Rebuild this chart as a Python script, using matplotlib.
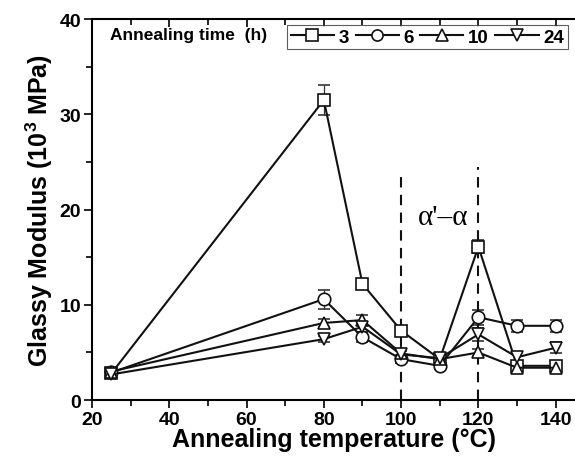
import matplotlib
matplotlib.use("Agg")
import matplotlib.pyplot as plt
from matplotlib.lines import Line2D
from matplotlib.ticker import MultipleLocator

plt.rcParams['font.family'] = ['Liberation Sans', 'DejaVu Sans']
plt.rcParams['font.weight'] = 'bold'
plt.rcParams['mathtext.fontset'] = 'custom'
plt.rcParams['mathtext.bf'] = 'Liberation Sans:bold'
plt.rcParams['mathtext.default'] = 'bf'

# annealing temperature (C) and glassy modulus (10^3 MPa) per annealing time
temps = [25, 80, 90, 100, 110, 120, 130, 140]
times = ['3', '6', '10', '24']
mod_3h = [2.8, 31.5, 12.2, 7.3, 4.3, 16.1, 3.6, 3.6]
mod_6h = [2.9, 10.6, 6.6, 4.3, 3.6, 8.7, 7.8, 7.8]
mod_10h = [3.0, 8.1, 8.4, 4.9, 4.3, 5.0, 3.4, 3.4]
mod_24h = [2.7, 6.4, 7.7, 4.8, 4.4, 6.9, 4.5, 5.5]
err_3h = [0.3, 1.6, 0.3, 0.3, 0.3, 0.7, 0.3, 0.3]
err_6h = [0.3, 1.0, 0.5, 0.4, 0.3, 0.8, 0.6, 0.6]
err_10h = [0.3, 0.4, 0.5, 0.4, 0.3, 0.4, 0.4, 0.3]
err_24h = [0.3, 0.3, 0.5, 0.4, 0.3, 0.7, 0.5, 0.6]

fig = plt.figure(figsize=(5.75, 4.6), dpi=100)
ax = fig.add_axes([0.16, 0.128, 0.84, 0.8285])

series = [(mod_3h, err_3h, 's'), (mod_6h, err_6h, 'o'),
          (mod_10h, err_10h, '^'), (mod_24h, err_24h, 'v')]
handles = []
for (vals, errs, mk), lab in zip(series, times):
    ax.errorbar(temps, vals, yerr=errs, color='#111111', lw=1.5,
                marker=mk, ms=9, mfc='white', mec='#111111', mew=1.2,
                ecolor='#333333', elinewidth=0.9, capsize=4)
    handles.append(Line2D([], [], color='#111111', lw=1.5, marker=mk, ms=8,
                          mfc='white', mec='#111111', mew=1.2, label=lab))

# transition region markers
ax.vlines([100, 120], 0, [24, 24.5], colors='#111111', linestyles=(0, (5, 3.5)), lw=1.5)
ax.text(111, 19.2, "\u03b1'\u2013\u03b1", family=['Liberation Serif'], fontweight='normal',
        fontsize=21, ha='center', va='center')

ax.set_xlim(20, 145)
ax.set_ylim(0, 40)
ax.xaxis.set_major_locator(MultipleLocator(20))
ax.xaxis.set_minor_locator(MultipleLocator(10))
ax.yaxis.set_major_locator(MultipleLocator(10))
ax.yaxis.set_minor_locator(MultipleLocator(5))
ax.set_xticks([20, 40, 60, 80, 100, 120, 140])
ax.tick_params(which='both', direction='out', width=1.2, labelsize=14, pad=2)
ax.tick_params(which='major', length=6)
ax.tick_params(which='minor', length=4)
ax.tick_params(axis='x', which='both', top=True, labeltop=False)
for t in ax.xaxis.get_major_ticks() + ax.xaxis.get_minor_ticks():
    t.tick2line.set_marker(3)  # top ticks point into the axes
for lbl in ax.get_xticklabels() + ax.get_yticklabels():
    lbl.set_fontweight('bold')
ax.spines['right'].set_visible(False)
for s in ['left', 'bottom', 'top']:
    ax.spines[s].set_linewidth(1.5)

ax.set_xlabel('Annealing temperature (\u00b0C)', fontsize=18, fontweight='bold', labelpad=-1)
ax.set_ylabel('Glassy Modulus (10$^{3}$ MPa)', fontsize=18, fontweight='bold', labelpad=3)

ax.text(0.038, 0.96, 'Annealing time  (h)', transform=ax.transAxes,
        fontsize=12.5, fontweight='bold', va='center', ha='left')
leg = ax.legend(handles=handles, loc='upper right', bbox_to_anchor=(0.985, 0.985), ncol=4,
                fontsize=13.5, frameon=True, fancybox=False, borderaxespad=0,
                handlelength=2.3, handletextpad=0.25, columnspacing=0.35,
                borderpad=0.2)
leg.get_frame().set_edgecolor('#333333')
leg.get_frame().set_linewidth(0.8)
for t in leg.get_texts():
    t.set_fontweight('bold')

fig.savefig('out.png', dpi=100)
